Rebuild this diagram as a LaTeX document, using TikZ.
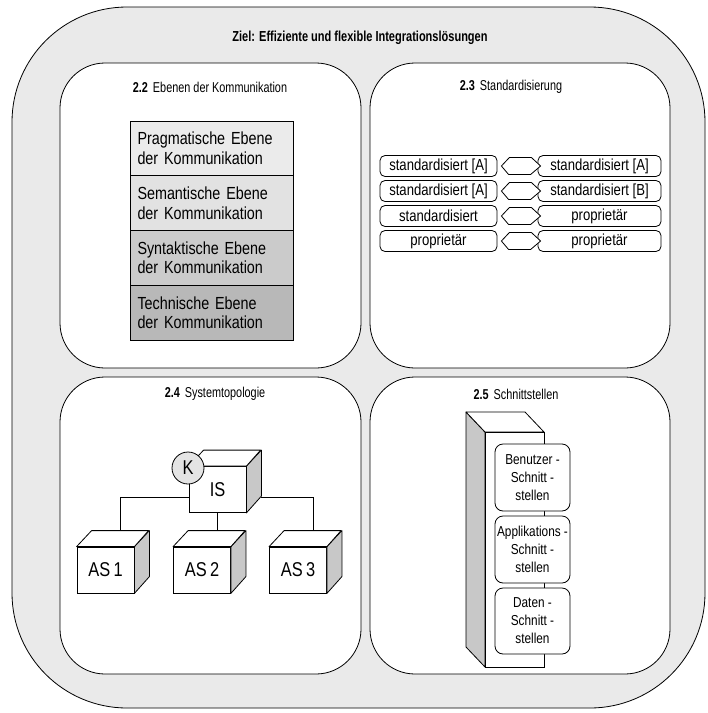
\documentclass[tikz,border=0pt]{standalone}
\usepackage{fontspec}
\setmainfont{Liberation Sans}[FakeStretch=0.82]
\newfontfamily\headfont{Liberation Sans}[FakeStretch=0.76]
\usetikzlibrary{calc}
\definecolor{band}{HTML}{EAEAEA}
\definecolor{layA}{HTML}{EBEBEB}
\definecolor{layB}{HTML}{E2E2E2}
\definecolor{layC}{HTML}{CBCBCB}
\definecolor{layD}{HTML}{B8B8B8}
\definecolor{sidegray}{HTML}{C8C8C8}
\definecolor{kgray}{HTML}{E4E4E4}
\begin{document}
\begin{tikzpicture}[x=1pt,y=-1pt,line width=0.8pt,
  panel/.style={draw,fill=white,rounded corners=45pt},
  heading/.style={inner sep=0pt,font=\headfont\fontsize{14.3}{16}\selectfont},
  layer/.style={draw,minimum width=163pt,minimum height=54.75pt,text width=148pt,
    inner xsep=7.5pt,inner ysep=0pt,align=left,font=\fontsize{17.5}{19.5}\selectfont},
  stdbox/.style={draw,fill=white,rounded corners=5pt,minimum height=21pt,inner sep=0pt,
    font=\fontsize{16}{17}\selectfont},
  hexlink/.style={draw,fill=white,line join=miter},
  front/.style={draw,fill=white,minimum width=57pt,minimum height=46pt,inner sep=0pt,
    font=\fontsize{20}{22}\selectfont},
  sideface/.style={draw,fill=sidegray,line join=round},
  topface/.style={draw,fill=white,line join=round},
  iface/.style={draw,fill=white,rounded corners=8pt,minimum width=75pt,inner sep=0pt,
    align=center,font=\fontsize{14.4}{18}\selectfont}
]
\path[use as bounding box] (0,0) rectangle (708,713);

% outer frame
\draw[fill=band,rounded corners=115pt] (12,7) rectangle (705,708);
\node[inner sep=0pt,font=\headfont\bfseries\fontsize{14.5}{16}\selectfont] (title) at (360,38)
  {Ziel: Effiziente und flexible Integrationslösungen};

% four panels
\draw[panel] (60,63) rectangle (361,368);
\draw[panel] (370,63) rectangle (670,368);
\draw[panel] (60,377) rectangle (361,674);
\draw[panel] (370,377) rectangle (670,674);

\node[heading] (h22) at (210,87) {\textbf{2.2}\hspace{5pt}Ebenen der Kommunikation};
\node[heading] (h23) at (511,87) {\textbf{2.3}\hspace{5pt}Standardisierung};
\node[heading] (h24) at (215,394) {\textbf{2.4}\hspace{5pt}Systemtopologie};
\node[heading] (h25) at (516,394) {\textbf{2.5}\hspace{5pt}Schnittstellen};

% 2.2 layers
\node[layer,fill=layA] (prag) at (211.5,148.4) {Pragmatische Ebene\\der Kommunikation};
\node[layer,fill=layB] (sem)  at (211.5,203.1) {Semantische Ebene\\der Kommunikation};
\node[layer,fill=layC] (syn)  at (211.5,257.9) {Syntaktische Ebene\\der Kommunikation};
\node[layer,fill=layD] (tech) at (211.5,312.6) {Technische Ebene\\der Kommunikation};

% 2.3 standardisation pairs
\node[stdbox,minimum width=117pt] (L1) at (438.5,166) {standardisiert [A]};
\node[stdbox,minimum width=123pt] (R1) at (599.5,166) {standardisiert [A]};
\node[stdbox,minimum width=117pt] (L2) at (438.5,191) {standardisiert [A]};
\node[stdbox,minimum width=123pt] (R2) at (599.5,191) {standardisiert [B]};
\node[stdbox,minimum width=117pt] (L3) at (438.5,216) {standardisiert};
\node[stdbox,minimum width=123pt] (R3) at (599.5,216) {proprietär};
\node[stdbox,minimum width=117pt] (L4) at (438.5,241) {proprietär};
\node[stdbox,minimum width=123pt] (R4) at (599.5,241) {proprietär};
\foreach \r in {1,2,3,4}{
  \draw[hexlink] ([xshift=4pt]L\r.east) -- ++(8,-8.5) -- ++(22,0) -- ([xshift=3pt]R\r.west)
    -- ++(-10,8.5) -- ++(-22,0) -- cycle;
}

% 2.4 topology
\node[front] (IS) at (217.5,489.5) {IS};
\draw[sideface] (IS.north east) -- ++(15,-16) -- ++(0,46) -- (IS.south east) -- cycle;
\draw[topface] (IS.north west) -- ++(15,-16) -- ++(57,0) -- (IS.north east) -- cycle;
\node[draw,circle,fill=kgray,minimum size=32pt,inner sep=0pt,
  font=\fontsize{20}{22}\selectfont] (K) at (188,468) {K};

\foreach \n/\x/\t in {AS1/105.5/AS\,1,AS2/202/AS\,2,AS3/298/AS\,3}{
  \node[front] (\n) at (\x,570) {\t};
  \draw[sideface] (\n.north east) -- ++(15,-16) -- ++(0,46) -- (\n.south east) -- cycle;
  \draw[topface] (\n.north west) -- ++(15,-16) -- ++(57,0) -- (\n.north east) -- cycle;
}
\coordinate (ISb) at ($(IS.south east)+(15,-16)$);
\coordinate (t1) at ($(AS1.north)+(14.5,-16)$);
\coordinate (t2) at (IS.south |- t1);
\coordinate (t3) at ($(AS3.north)+(15,-16)$);
\draw (IS.west |- ISb) -| (t1);
\draw (IS.south) -- (t2);
\draw (ISb) -| (t3);

% 2.5 interface column
\draw[sideface] (466,412) -- (485,432) -- (485,667) -- (466,647) -- cycle;
\draw[topface] (466,412) -- (525,412) -- (544,432) -- (485,432) -- cycle;
\node[draw,fill=white,minimum width=59pt,minimum height=235pt,inner sep=0pt,anchor=north west]
  (col) at (485,432) {};
\node[iface,minimum height=67pt] (ben) at (532.5,477.5) {Benutzer -\\Schnitt -\\stellen};
\node[iface,minimum height=67pt] (app) at (532.5,549.5) {Applikations -\\Schnitt -\\stellen};
\node[iface,minimum height=66pt] (dat) at (532.5,621) {Daten -\\Schnitt -\\stellen};
\end{tikzpicture}
\end{document}
